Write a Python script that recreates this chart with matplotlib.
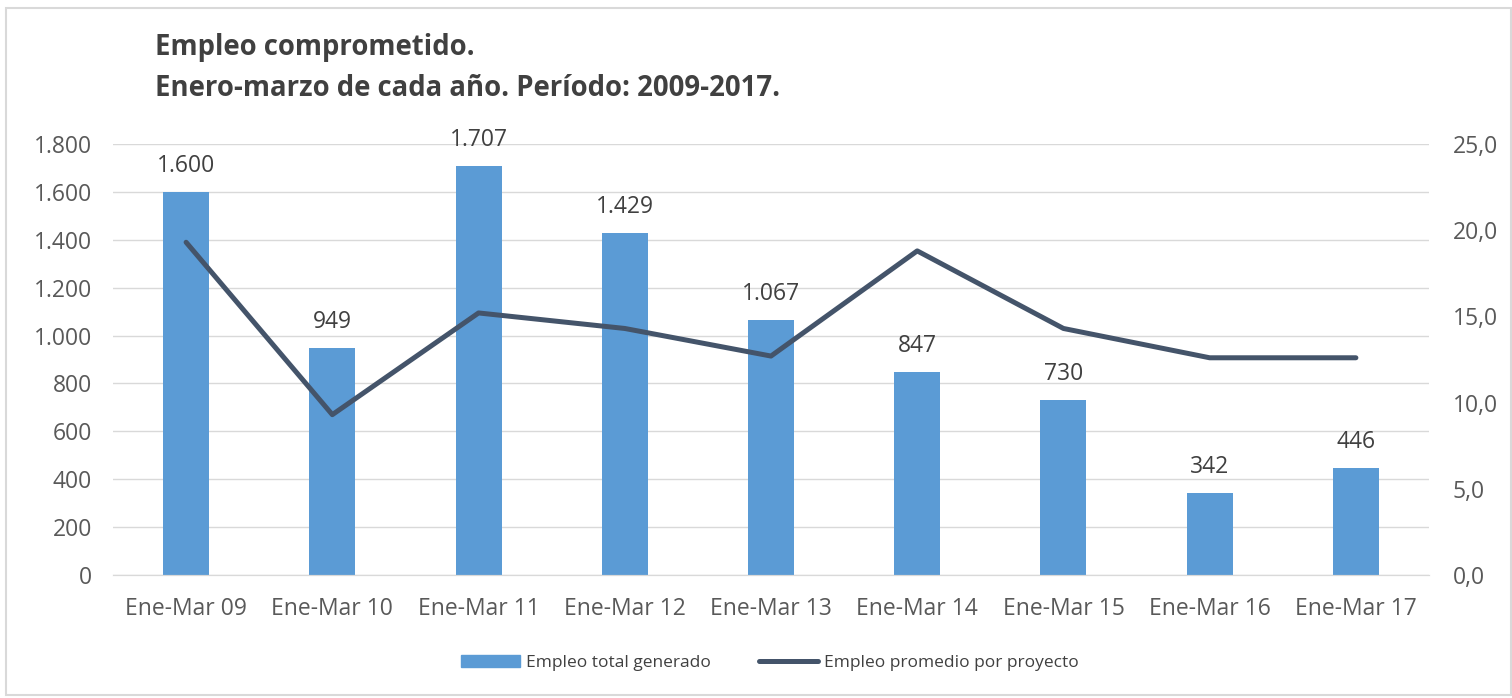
import matplotlib
matplotlib.use("Agg")
import matplotlib.pyplot as plt
from matplotlib.patches import Rectangle
from matplotlib.lines import Line2D
from matplotlib.ticker import FuncFormatter

categories = ["Ene-Mar 09", "Ene-Mar 10", "Ene-Mar 11", "Ene-Mar 12", "Ene-Mar 13",
              "Ene-Mar 14", "Ene-Mar 15", "Ene-Mar 16", "Ene-Mar 17"]
empleo_total = [1600, 949, 1707, 1429, 1067, 847, 730, 342, 446]
empleo_promedio = [19.3, 9.3, 15.2, 14.3, 12.7, 18.8, 14.3, 12.6, 12.6]
bar_labels = ["1.600", "949", "1.707", "1.429", "1.067", "847", "730", "342", "446"]

FONT = ["Open Sans", "DejaVu Sans"]
plt.rcParams['font.family'] = FONT

fig = plt.figure(figsize=(15.12, 6.98), dpi=100)
fig.patches.append(Rectangle((6/1512, 0.005), 1 - 7/1512, 1 - 8/698 - 0.005, transform=fig.transFigure,
                             fill=False, edgecolor="#d9d9d9", linewidth=1.5))

ax = fig.add_axes([113/1512, 1 - 575/698, (1429 - 113)/1512, (575 - 144)/698])
ax2 = ax.twinx()

x = list(range(len(categories)))
bar_color = "#5B9BD5"
line_color = "#44546A"
tick_color = "#595959"
TICK_FS = 16.5

ax.bar(x, empleo_total, width=0.315, color=bar_color, zorder=2)
ax.set_xlim(-0.5, len(categories) - 0.5)
ax.set_ylim(0, 1800)
ax.set_yticks(range(0, 1801, 200))

def thousands(v, pos):
    return f"{int(v):,}".replace(",", ".")
ax.yaxis.set_major_formatter(FuncFormatter(thousands))
ax.grid(axis="y", color="#d9d9d9", linewidth=1, zorder=0)
ax.set_axisbelow(True)
ax.set_xticks(x)
ax.set_xticklabels(categories)

for i, (v, lbl) in enumerate(zip(empleo_total, bar_labels)):
    ax.annotate(lbl, (i, v), xytext=(0, 10), textcoords="offset points",
                ha="center", va="bottom", fontsize=TICK_FS, color="#404040")

ax2.plot(x, empleo_promedio, color=line_color, linewidth=3.6, solid_capstyle="round",
         solid_joinstyle="round", zorder=3)
ax2.set_ylim(0, 25)
ax2.set_yticks([0, 5, 10, 15, 20, 25])
ax2.yaxis.set_major_formatter(FuncFormatter(lambda v, p: f"{v:.1f}".replace(".", ",")))

for a in (ax, ax2):
    for s in ("top", "left", "right"):
        a.spines[s].set_visible(False)
    a.spines["bottom"].set_color("#d9d9d9")
    a.tick_params(length=0, labelsize=TICK_FS, labelcolor=tick_color)
ax.tick_params(axis="x", pad=16)
ax.tick_params(axis="y", pad=15)
ax2.tick_params(axis="y", pad=17)

fig.text(155/1512, 1 - 47/698, "Empleo comprometido.", fontsize=19.8, fontweight="bold",
         color="#404040", va="center", ha="left")
fig.text(155/1512, 1 - 89/698, "Enero-marzo de cada año. Período: 2009-2017.", fontsize=19.8,
         fontweight="bold", color="#404040", va="center", ha="left")

handles = [Rectangle((0, 0), 1, 1, color=bar_color),
           Line2D([0], [0], color=line_color, linewidth=3.6, solid_capstyle="round")]
fig.legend(handles, ["Empleo total generado", "Empleo promedio por proyecto"],
           loc="center", bbox_to_anchor=(770/1512, 1 - 663/698), ncol=2, frameon=False,
           fontsize=12.5, labelcolor="#404040", handlelength=3.4, handletextpad=0.35,
           columnspacing=2.8)

fig.savefig("out.png", dpi=100)
